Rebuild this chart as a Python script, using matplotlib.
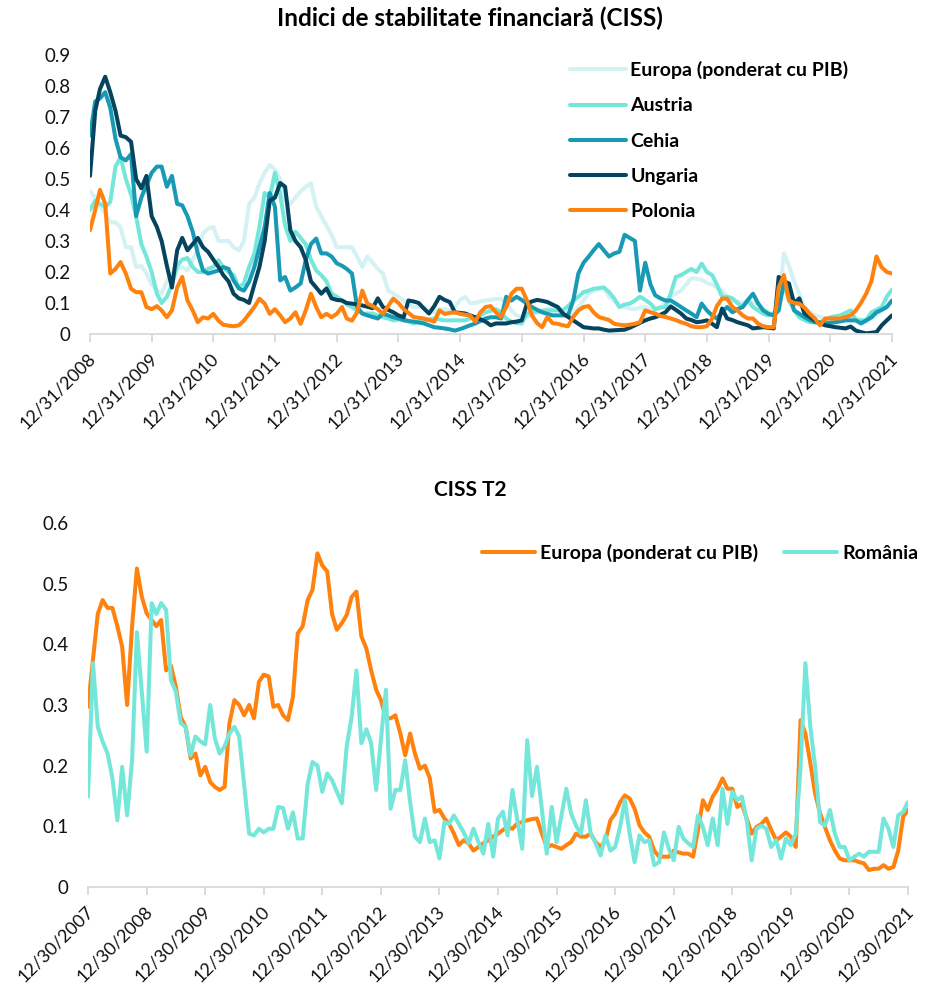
import pandas as pd
import matplotlib
matplotlib.use("Agg")
import matplotlib.pyplot as plt
from matplotlib.transforms import ScaledTranslation

plt.rcParams["font.family"] = ["Lato", "DejaVu Sans"]

TOP_TITLE = "Indici de stabilitate financiară (CISS)"
BOTTOM_TITLE = "CISS T2"

# top panel: monthly, first point 12/31/2008
top_ticks = ["12/31/2008", "12/31/2009", "12/31/2010", "12/31/2011", "12/31/2012",
             "12/31/2013", "12/31/2014", "12/31/2015", "12/31/2016", "12/31/2017",
             "12/31/2018", "12/31/2019", "12/31/2020", "12/31/2021"]
top_yticks = [0, 0.1, 0.2, 0.3, 0.4, 0.5, 0.6, 0.7, 0.8, 0.9]
top_ylabels = ["0", "0.1", "0.2", "0.3", "0.4", "0.5", "0.6", "0.7", "0.8", "0.9"]

top_names = ["Europa (ponderat cu PIB)", "Austria", "Cehia", "Ungaria", "Polonia"]

europa_top = [
    0.46, 0.44, 0.41, 0.39, 0.36, 0.36, 0.345, 0.28, 0.28, 0.216, 0.22, 0.195, 0.16,
    0.14, 0.13, 0.17, 0.195, 0.21, 0.216, 0.205, 0.24, 0.27, 0.324, 0.34, 0.345,
    0.30, 0.30, 0.30, 0.28, 0.27, 0.30, 0.42, 0.44, 0.486, 0.52, 0.545, 0.53,
    0.50, 0.43, 0.42, 0.44, 0.46, 0.475, 0.486, 0.41, 0.38, 0.35, 0.32, 0.28,
    0.28, 0.28, 0.28, 0.25, 0.216, 0.25, 0.23, 0.21, 0.195, 0.14, 0.13, 0.12,
    0.108, 0.095, 0.087, 0.087, 0.087, 0.075, 0.07, 0.08, 0.08, 0.076, 0.087, 0.11,
    0.12, 0.10, 0.10, 0.105, 0.108, 0.11, 0.113, 0.113, 0.10, 0.076, 0.06, 0.055,
    0.055, 0.06, 0.07, 0.076, 0.08, 0.085, 0.087, 0.075, 0.065, 0.06, 0.087, 0.108,
    0.13, 0.14, 0.145, 0.15, 0.12, 0.108, 0.09, 0.087, 0.082, 0.08, 0.085, 0.087,
    0.076, 0.08, 0.087, 0.10, 0.12, 0.13, 0.14, 0.16, 0.18, 0.178, 0.175, 0.165,
    0.16, 0.15, 0.14, 0.12, 0.108, 0.104, 0.10, 0.108, 0.10, 0.098, 0.08, 0.07,
    0.066, 0.087, 0.26, 0.22, 0.17, 0.13, 0.087, 0.07, 0.06, 0.055, 0.05, 0.047,
    0.044, 0.047, 0.05, 0.05, 0.05, 0.045, 0.038, 0.05, 0.06, 0.075, 0.087, 0.108,
]
austria = [
    0.40, 0.43, 0.42, 0.41, 0.426, 0.54, 0.57, 0.50, 0.45, 0.38, 0.29, 0.25, 0.20,
    0.13, 0.10, 0.12, 0.16, 0.22, 0.24, 0.245, 0.216, 0.20, 0.20, 0.21, 0.216,
    0.238, 0.215, 0.20, 0.19, 0.15, 0.163, 0.216, 0.26, 0.345, 0.455, 0.44, 0.52,
    0.45, 0.35, 0.30, 0.33, 0.31, 0.29, 0.24, 0.205, 0.19, 0.17, 0.13, 0.12,
    0.108, 0.095, 0.087, 0.075, 0.066, 0.066, 0.066, 0.06, 0.054, 0.05, 0.044, 0.047,
    0.05, 0.04, 0.034, 0.04, 0.044, 0.047, 0.05, 0.047, 0.044, 0.044, 0.044, 0.044,
    0.044, 0.05, 0.054, 0.06, 0.07, 0.075, 0.08, 0.07, 0.05, 0.04, 0.035, 0.034,
    0.066, 0.07, 0.072, 0.075, 0.076, 0.076, 0.076, 0.076, 0.09, 0.108, 0.12, 0.135,
    0.14, 0.146, 0.148, 0.15, 0.135, 0.115, 0.087, 0.095, 0.098, 0.108, 0.12, 0.11,
    0.098, 0.08, 0.085, 0.087, 0.13, 0.184, 0.19, 0.20, 0.21, 0.20, 0.227, 0.20,
    0.19, 0.16, 0.12, 0.12, 0.115, 0.10, 0.087, 0.108, 0.087, 0.076, 0.065, 0.06,
    0.066, 0.087, 0.16, 0.108, 0.076, 0.054, 0.045, 0.038, 0.038, 0.038, 0.045, 0.054,
    0.057, 0.06, 0.068, 0.076, 0.044, 0.044, 0.044, 0.07, 0.078, 0.087, 0.12, 0.143,
]
cehia = [
    0.64, 0.75, 0.76, 0.78, 0.73, 0.63, 0.57, 0.56, 0.58, 0.38, 0.44, 0.48, 0.52,
    0.54, 0.54, 0.475, 0.51, 0.42, 0.415, 0.38, 0.33, 0.26, 0.205, 0.195, 0.20,
    0.205, 0.216, 0.21, 0.173, 0.147, 0.14, 0.168, 0.216, 0.28, 0.345, 0.455, 0.41,
    0.173, 0.184, 0.14, 0.15, 0.163, 0.238, 0.29, 0.308, 0.26, 0.26, 0.25, 0.228,
    0.22, 0.21, 0.195, 0.087, 0.066, 0.06, 0.055, 0.05, 0.066, 0.06, 0.054, 0.05,
    0.044, 0.042, 0.04, 0.037, 0.034, 0.028, 0.022, 0.02, 0.018, 0.015, 0.011, 0.016,
    0.022, 0.028, 0.034, 0.042, 0.05, 0.054, 0.054, 0.05, 0.12, 0.108, 0.12, 0.11,
    0.098, 0.087, 0.078, 0.07, 0.065, 0.06, 0.06, 0.06, 0.06, 0.108, 0.195, 0.23,
    0.25, 0.27, 0.29, 0.27, 0.25, 0.26, 0.265, 0.32, 0.31, 0.30, 0.14, 0.23,
    0.16, 0.125, 0.115, 0.108, 0.108, 0.098, 0.087, 0.076, 0.066, 0.054, 0.098, 0.076,
    0.06, 0.05, 0.07, 0.087, 0.07, 0.08, 0.087, 0.11, 0.13, 0.098, 0.076, 0.065,
    0.06, 0.076, 0.168, 0.13, 0.076, 0.065, 0.054, 0.045, 0.038, 0.036, 0.034, 0.036,
    0.038, 0.041, 0.044, 0.044, 0.044, 0.034, 0.044, 0.054, 0.07, 0.078, 0.087, 0.108,
]
ungaria = [
    0.51, 0.72, 0.79, 0.83, 0.78, 0.72, 0.64, 0.635, 0.62, 0.50, 0.47, 0.51, 0.38,
    0.345, 0.30, 0.22, 0.15, 0.27, 0.31, 0.27, 0.29, 0.31, 0.28, 0.265, 0.24,
    0.216, 0.19, 0.17, 0.13, 0.115, 0.11, 0.10, 0.16, 0.216, 0.30, 0.43, 0.44,
    0.487, 0.475, 0.335, 0.30, 0.28, 0.24, 0.17, 0.15, 0.13, 0.147, 0.115, 0.11,
    0.108, 0.10, 0.098, 0.095, 0.092, 0.088, 0.083, 0.115, 0.087, 0.078, 0.07, 0.06,
    0.054, 0.108, 0.105, 0.10, 0.082, 0.066, 0.09, 0.12, 0.11, 0.103, 0.07, 0.068,
    0.066, 0.06, 0.054, 0.047, 0.04, 0.028, 0.034, 0.034, 0.034, 0.038, 0.04, 0.044,
    0.098, 0.105, 0.11, 0.107, 0.103, 0.095, 0.087, 0.066, 0.055, 0.044, 0.033, 0.022,
    0.02, 0.018, 0.018, 0.014, 0.011, 0.012, 0.013, 0.014, 0.02, 0.028, 0.036, 0.044,
    0.05, 0.054, 0.062, 0.07, 0.089, 0.078, 0.066, 0.05, 0.045, 0.038, 0.04, 0.044,
    0.033, 0.022, 0.082, 0.05, 0.045, 0.038, 0.033, 0.028, 0.018, 0.02, 0.022, 0.02,
    0.018, 0.184, 0.17, 0.163, 0.098, 0.115, 0.066, 0.055, 0.044, 0.035, 0.028, 0.025,
    0.022, 0.02, 0.018, 0.024, 0.011, 0.006, 0.002, 0.004, 0.006, 0.028, 0.044, 0.06,
]
polonia = [
    0.335, 0.40, 0.465, 0.42, 0.195, 0.21, 0.232, 0.195, 0.146, 0.135, 0.135, 0.087, 0.08,
    0.09, 0.076, 0.054, 0.076, 0.15, 0.184, 0.108, 0.076, 0.038, 0.054, 0.05, 0.065,
    0.043, 0.03, 0.027, 0.025, 0.028, 0.043, 0.065, 0.087, 0.114, 0.098, 0.065, 0.08,
    0.06, 0.038, 0.05, 0.07, 0.033, 0.076, 0.13, 0.087, 0.054, 0.065, 0.054, 0.065,
    0.087, 0.05, 0.043, 0.07, 0.14, 0.098, 0.09, 0.08, 0.065, 0.09, 0.114, 0.10,
    0.08, 0.068, 0.055, 0.052, 0.05, 0.045, 0.04, 0.076, 0.065, 0.068, 0.07, 0.065,
    0.062, 0.06, 0.04, 0.07, 0.087, 0.09, 0.07, 0.055, 0.087, 0.13, 0.146, 0.146,
    0.108, 0.06, 0.035, 0.022, 0.055, 0.035, 0.033, 0.028, 0.025, 0.055, 0.076, 0.087,
    0.09, 0.07, 0.055, 0.05, 0.045, 0.033, 0.03, 0.028, 0.03, 0.033, 0.038, 0.076,
    0.07, 0.066, 0.058, 0.055, 0.05, 0.045, 0.038, 0.033, 0.025, 0.022, 0.022, 0.025,
    0.05, 0.09, 0.114, 0.114, 0.087, 0.076, 0.06, 0.05, 0.05, 0.033, 0.025, 0.022,
    0.022, 0.15, 0.19, 0.108, 0.10, 0.098, 0.085, 0.065, 0.05, 0.028, 0.05, 0.05,
    0.05, 0.05, 0.055, 0.06, 0.076, 0.10, 0.13, 0.17, 0.25, 0.215, 0.20, 0.195,
]

# bottom panel: monthly, first point 12/30/2007
bottom_ticks = ["12/30/2007", "12/30/2008", "12/30/2009", "12/30/2010", "12/30/2011",
                "12/30/2012", "12/30/2013", "12/30/2014", "12/30/2015", "12/30/2016",
                "12/30/2017", "12/30/2018", "12/30/2019", "12/30/2020", "12/30/2021"]
bottom_yticks = [0, 0.1, 0.2, 0.3, 0.4, 0.5, 0.6]
bottom_ylabels = ["0", "0.1", "0.2", "0.3", "0.4", "0.5", "0.6"]

bottom_names = ["Europa (ponderat cu PIB)", "România"]

europa_t2 = [
    0.297, 0.374, 0.45, 0.473, 0.46, 0.46, 0.43, 0.396, 0.30, 0.43, 0.525, 0.478, 0.451,
    0.44, 0.43, 0.44, 0.357, 0.365, 0.33, 0.28, 0.264, 0.212, 0.22, 0.184, 0.198,
    0.173, 0.165, 0.16, 0.165, 0.27, 0.308, 0.30, 0.283, 0.30, 0.278, 0.338, 0.35,
    0.347, 0.297, 0.30, 0.283, 0.275, 0.313, 0.418, 0.43, 0.473, 0.49, 0.55, 0.53,
    0.52, 0.45, 0.424, 0.435, 0.448, 0.478, 0.487, 0.413, 0.393, 0.357, 0.325, 0.308,
    0.278, 0.278, 0.283, 0.253, 0.217, 0.253, 0.22, 0.195, 0.20, 0.18, 0.124, 0.127,
    0.113, 0.104, 0.088, 0.069, 0.077, 0.072, 0.06, 0.066, 0.072, 0.077, 0.083, 0.088,
    0.094, 0.099, 0.096, 0.105, 0.107, 0.11, 0.112, 0.113, 0.088, 0.066, 0.069, 0.066,
    0.063, 0.069, 0.074, 0.088, 0.083, 0.083, 0.088, 0.074, 0.066, 0.077, 0.11, 0.121,
    0.14, 0.151, 0.146, 0.129, 0.102, 0.09, 0.083, 0.06, 0.05, 0.05, 0.05, 0.06,
    0.057, 0.055, 0.055, 0.05, 0.094, 0.143, 0.127, 0.149, 0.162, 0.179, 0.162, 0.162,
    0.132, 0.137, 0.113, 0.088, 0.099, 0.104, 0.113, 0.094, 0.077, 0.083, 0.09, 0.083,
    0.066, 0.275, 0.253, 0.204, 0.154, 0.121, 0.099, 0.077, 0.06, 0.047, 0.044, 0.044,
    0.044, 0.041, 0.039, 0.028, 0.03, 0.03, 0.036, 0.03, 0.033, 0.06, 0.116, 0.127,
]
romania = [
    0.149, 0.369, 0.264, 0.24, 0.22, 0.18, 0.11, 0.198, 0.118, 0.209, 0.42, 0.32, 0.223,
    0.468, 0.45, 0.468, 0.457, 0.341, 0.322, 0.27, 0.264, 0.217, 0.248, 0.24, 0.235,
    0.30, 0.245, 0.22, 0.232, 0.253, 0.264, 0.248, 0.168, 0.088, 0.085, 0.096, 0.09,
    0.096, 0.096, 0.132, 0.13, 0.096, 0.123, 0.08, 0.08, 0.17, 0.206, 0.20, 0.157,
    0.187, 0.176, 0.157, 0.138, 0.231, 0.28, 0.357, 0.237, 0.26, 0.237, 0.16, 0.243,
    0.325, 0.129, 0.16, 0.16, 0.209, 0.14, 0.083, 0.074, 0.113, 0.074, 0.077, 0.047,
    0.107, 0.104, 0.118, 0.104, 0.09, 0.072, 0.096, 0.074, 0.055, 0.104, 0.05, 0.113,
    0.124, 0.085, 0.16, 0.11, 0.063, 0.242, 0.15, 0.198, 0.127, 0.055, 0.132, 0.074,
    0.118, 0.162, 0.121, 0.101, 0.088, 0.143, 0.088, 0.072, 0.052, 0.085, 0.06, 0.066,
    0.10, 0.143, 0.088, 0.041, 0.085, 0.074, 0.077, 0.036, 0.041, 0.09, 0.063, 0.044,
    0.099, 0.08, 0.072, 0.066, 0.118, 0.099, 0.069, 0.113, 0.069, 0.162, 0.104, 0.157,
    0.143, 0.149, 0.11, 0.044, 0.096, 0.101, 0.096, 0.066, 0.077, 0.047, 0.08, 0.069,
    0.088, 0.198, 0.369, 0.264, 0.198, 0.107, 0.101, 0.127, 0.088, 0.066, 0.066, 0.044,
    0.05, 0.055, 0.05, 0.058, 0.058, 0.058, 0.113, 0.096, 0.066, 0.118, 0.124, 0.14,
]

C_EUROPA = "#D4F1F4"
C_AUSTRIA = "#75E6DA"
C_CEHIA = "#189AB4"
C_UNGARIA = "#05445E"
C_ORANGE = "#FF820F"
AXIS_GREY = "#D9D9D9"

W, H = 926, 991
XTICK_FS = 13
YTICK_FS = 13.5
LEGEND_FS = 14
LINE_W = 2.9


def month_end_dates(start, n):
    first = pd.Timestamp(start)
    return [first + pd.offsets.MonthEnd(i) for i in range(n)]


def same_day_dates(start, n):
    first = pd.Timestamp(start)
    return [first + pd.DateOffset(months=i) for i in range(n)]


def style_axis(fig, ax, ticks, yticks, ylabels):
    for side in ["top", "right", "left"]:
        ax.spines[side].set_visible(False)
    ax.spines["bottom"].set_color(AXIS_GREY)
    ax.spines["bottom"].set_linewidth(1.3)
    tick_pos = pd.to_datetime(ticks, format="%m/%d/%Y")
    ax.set_xlim(tick_pos[0], tick_pos[-1])
    ax.set_xticks(tick_pos)
    ax.set_xticklabels(ticks, rotation=45, ha="right", va="center",
                       rotation_mode="anchor")
    ax.tick_params(axis="x", length=6, width=1.3, color=AXIS_GREY, pad=10,
                   labelsize=XTICK_FS, labelcolor="#111111")
    # nudge the rotated labels a touch to the right, like the original
    shift = ScaledTranslation(3 / 100, 0, fig.dpi_scale_trans)
    for lbl in ax.get_xticklabels():
        lbl.set_transform(lbl.get_transform() + shift)
    ax.set_ylim(0, yticks[-1])
    ax.set_yticks(yticks)
    ax.set_yticklabels(ylabels)
    ax.tick_params(axis="y", length=0, pad=14, labelsize=YTICK_FS, labelcolor="#111111")


def main():
    fig = plt.figure(figsize=(W / 100, H / 100), dpi=100)

    # top panel
    ax1 = fig.add_axes([90 / W, 1 - 334 / H, (892 - 90) / W, (334 - 55) / H])
    d1 = month_end_dates("2008-12-31", len(ungaria))
    top_series = [europa_top, austria, cehia, ungaria, polonia]
    top_colors = [C_EUROPA, C_AUSTRIA, C_CEHIA, C_UNGARIA, C_ORANGE]
    lines1 = []
    for vals, col, name in zip(top_series, top_colors, top_names):
        ln, = ax1.plot(d1, vals, color=col, lw=LINE_W, label=name,
                       solid_joinstyle="round", solid_capstyle="round")
        lines1.append(ln)
    style_axis(fig, ax1, top_ticks, top_yticks, top_ylabels)
    fig.legend(lines1, top_names, loc="upper left",
               bbox_to_anchor=(570 / W, 1 - 61 / H), frameon=False,
               prop={"weight": "bold", "size": LEGEND_FS}, handlelength=2.9,
               handletextpad=0.2, labelspacing=0.94, borderpad=0, borderaxespad=0)
    fig.text(470 / W, 1 - 18 / H, TOP_TITLE, ha="center", va="center",
             fontsize=17.5, weight="bold")

    # bottom panel
    ax2 = fig.add_axes([88 / W, 1 - 887 / H, (908 - 88) / W, (887 - 523) / H])
    d2 = same_day_dates("2007-12-30", len(europa_t2))
    l_eu, = ax2.plot(d2, europa_t2, color=C_ORANGE, lw=LINE_W,
                     solid_joinstyle="round", solid_capstyle="round")
    l_ro, = ax2.plot(d2, romania, color=C_AUSTRIA, lw=LINE_W,
                     solid_joinstyle="round", solid_capstyle="round")
    style_axis(fig, ax2, bottom_ticks, bottom_yticks, bottom_ylabels)
    fig.legend([l_eu, l_ro], bottom_names, loc="upper left", ncol=2,
               bbox_to_anchor=(482 / W, 1 - 544 / H), frameon=False,
               prop={"weight": "bold", "size": LEGEND_FS}, handlelength=2.75,
               handletextpad=0.25, columnspacing=1.3, borderpad=0, borderaxespad=0)
    fig.text(470 / W, 1 - 490 / H, BOTTOM_TITLE, ha="center", va="center",
             fontsize=15, weight="bold")

    fig.savefig("out.png", dpi=100)
    plt.close(fig)


if __name__ == "__main__":
    main()
